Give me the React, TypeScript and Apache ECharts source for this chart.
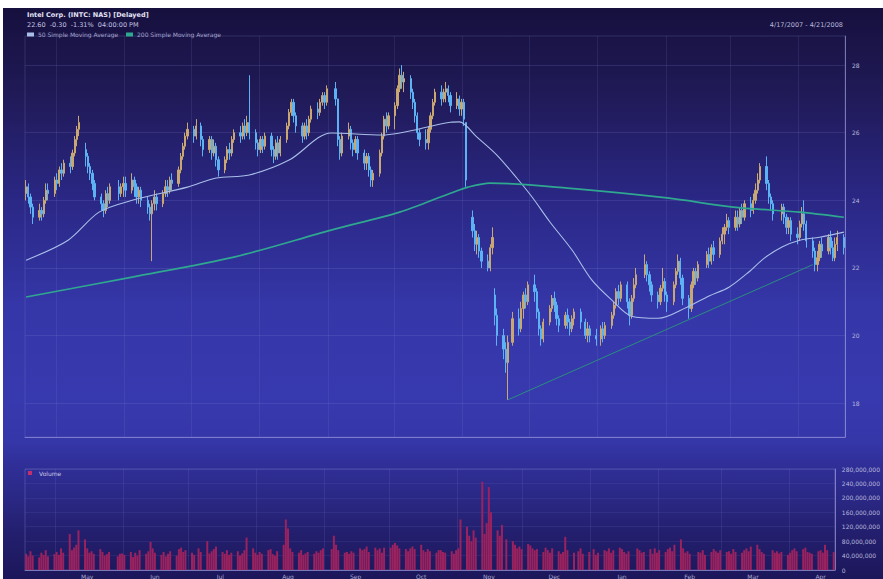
import React, { useEffect, useRef } from "react";
import * as echarts from "echarts";

const START_DATE = "2007-04-17";
const END_DATE = "2008-04-21";
const HOLIDAYS = ["2007-05-28", "2007-07-04", "2007-09-03", "2007-11-22", "2007-12-25", "2008-01-01", "2008-01-21", "2008-02-18", "2008-03-21"];
const MONTH_LABELS = ["Jan", "Feb", "Mar", "Apr", "May", "Jun", "Jul", "Aug", "Sep", "Oct", "Nov", "Dec"];
const PRICE_LABELS = [18, 20, 22, 24, 26, 28];
const PRICE_MIN = 17;
const PRICE_MAX = 28.86;
const VOLUME_MAX = 280; // millions
const VOLUME_STEP = 40;

const TITLE = "Intel Corp. (INTC: NAS) [Delayed]";
const QUOTE = "22.60  -0.30  -1.31%  04:00:00 PM";
const DATE_RANGE = "4/17/2007 - 4/21/2008";
const MA50_NAME = "50 Simple Moving Average";
const MA200_NAME = "200 Simple Moving Average";
const VOLUME_NAME = "Volume";

// [open, close, low, high] per trading day
const OHLC: number[][] = [
  [24.2,24.4,24.0,24.6],[24.4,24.1,23.9,24.5],[24.1,23.8,23.6,24.2],[23.8,23.5,23.3,23.9],[23.5,23.7,23.4,23.9],
  [23.7,23.6,23.4,23.8],[23.6,24.0,23.5,24.1],[24.0,24.3,23.9,24.5],[24.3,24.2,24.0,24.5],[24.2,24.6,24.1,24.7],
  [24.6,24.5,24.3,24.8],[24.5,24.9,24.4,25.0],[24.9,24.8,24.6,25.1],[24.8,25.1,24.7,25.2],[25.1,25.0,24.8,25.3],
  [25.0,25.4,24.9,25.5],[25.4,25.8,25.3,25.9],[25.8,26.1,25.6,26.2],[26.1,26.3,25.9,26.5],[25.5,25.3,25.0,25.7],
  [25.3,25.0,24.8,25.4],[25.0,24.8,24.6,25.1],[24.8,24.5,24.3,24.9],[24.5,24.1,24.0,24.6],[24.1,23.9,23.7,24.2],
  [23.9,23.7,23.5,24.0],
  [23.7,24.2,23.6,24.3],[24.2,24.0,23.8,24.4],[24.0,24.4,23.9,24.5],[24.4,24.2,24.0,24.6],
  [24.2,24.4,24.1,24.5],
  [24.4,24.5,24.1,24.7],
  [24.5,24.3,24.1,24.7],[24.3,24.6,24.2,24.8],[24.6,24.4,24.1,24.7],[24.4,24.1,23.9,24.5],[24.1,24.3,23.9,24.4],
  [24.3,24.0,23.8,24.4],[24.0,23.8,23.6,24.1],[23.8,23.6,23.4,23.9],[23.6,23.9,22.2,24.0],[23.9,24.1,23.7,24.3],
  [24.1,23.9,23.7,24.2],[23.9,24.2,23.8,24.3],[24.2,24.4,24.1,24.6],[24.4,24.3,24.1,24.6],[24.3,24.6,24.2,24.7],
  [24.6,24.5,24.3,24.8],[24.5,24.9,24.4,25.0],[24.9,25.3,24.8,25.4],[25.3,25.6,25.2,25.7],[25.6,25.9,25.5,26.0],
  [25.9,26.1,25.8,26.3],[26.1,25.9,25.7,26.2],[25.9,26.2,25.8,26.4],[26.2,25.8,25.6,26.3],[25.8,25.5,25.3,25.9],
  [25.5,25.8,25.4,25.9],[25.8,25.4,25.2,25.9],[25.4,25.6,25.3,25.8],[25.6,25.2,25.0,25.7],[25.2,24.9,24.7,25.3],
  [24.9,25.2,24.8,25.3],[25.2,25.5,25.1,25.6],[25.5,25.4,25.2,25.7],[25.4,25.8,25.3,25.9],[25.8,26.0,25.7,26.1],
  [26.0,25.9,25.7,26.2],[25.9,26.2,25.8,26.3],[26.2,26.0,25.8,26.4],[26.0,26.3,25.9,26.5],[26.3,26.0,25.8,27.7],
  [26.0,25.7,25.5,26.1],[25.7,25.5,25.3,25.8],[25.5,25.8,25.4,25.9],[25.8,25.6,25.4,25.9],[25.6,25.9,25.5,26.0],
  [25.9,25.5,25.3,26.0],[25.5,25.3,25.1,25.6],[25.3,25.7,25.2,25.8],[25.7,25.4,25.2,25.9],[25.4,25.8,25.3,25.9],
  [25.8,26.2,25.7,26.3],[26.2,26.6,26.1,26.7],[26.6,26.9,26.5,27.0],[26.9,26.5,26.3,27.0],[26.5,26.2,26.0,26.6],
  [26.2,25.9,25.7,26.3],[25.9,26.2,25.8,26.3],[26.2,26.0,25.8,26.4],[26.0,26.4,25.9,26.5],[26.4,26.7,26.3,26.8],
  [26.7,26.6,26.4,26.9],[26.6,26.9,26.5,27.0],[26.9,27.1,26.8,27.2],[27.1,26.9,26.7,27.2],[26.9,27.3,26.8,27.4],
  [27.3,27.0,26.8,27.5],[27.0,25.8,25.6,27.0],[25.8,25.4,25.2,25.9],[25.4,25.9,25.3,26.0],[25.9,26.1,25.8,26.3],
  [26.1,25.7,25.5,26.2],[25.7,25.5,25.3,25.8],[25.5,25.8,25.4,25.9],[25.8,25.4,25.2,25.9],[25.4,25.1,24.9,25.5],
  [25.1,25.3,24.9,25.4],[25.3,24.9,24.7,25.4],[24.9,24.6,24.4,25.0],[24.6,24.8,24.4,24.9],[24.8,25.4,24.7,25.5],
  [25.4,25.9,25.3,26.0],[25.9,26.4,25.8,26.5],[26.4,26.2,26.0,26.6],
  [26.2,26.5,26.1,26.6],
  [26.5,26.8,26.1,26.9],[26.8,27.3,26.7,27.4],[27.3,27.7,27.2,27.9],[27.7,27.5,27.3,28.0],[27.5,27.6,27.2,27.8],
  [27.6,27.2,27.0,27.7],[27.2,26.9,26.7,27.3],
  [26.9,26.5,26.3,27.0],[26.5,26.0,25.8,26.6],
  [26.0,25.8,25.6,26.1],
  [25.8,25.7,25.5,26.1],[25.7,26.1,25.5,26.2],[26.1,26.5,26.0,26.6],[26.5,26.9,26.4,27.0],[26.9,27.2,26.8,27.3],[27.2,27.0,26.8,27.4],
  [27.0,27.2,26.9,27.3],
  [27.2,27.3,26.9,27.5],[27.3,27.1,26.9,27.4],[27.1,26.8,26.6,27.2],[26.8,27.0,26.7,27.2],[27.0,26.7,26.5,27.1],
  [26.7,26.9,26.5,27.0],[26.9,26.4,26.2,27.0],[26.3,24.6,24.4,26.3],[23.5,23.1,22.9,23.7],[23.1,22.7,22.5,23.3],
  [22.7,22.9,22.4,23.1],[22.9,22.5,22.3,23.0],
  [22.5,22.2,22.0,22.6],[22.2,22.0,21.9,22.4],[22.0,22.6,21.9,22.7],[22.6,22.9,22.4,23.2],[21.2,20.6,20.3,21.4],
  [20.6,20.0,19.7,20.8],[20.0,19.6,19.3,20.2],[19.6,19.2,18.9,19.8],[19.2,19.8,18.1,20.0],[19.8,20.5,19.7,20.7],
  [20.5,20.2,20.0,20.8],[20.2,20.8,20.1,21.0],
  [20.8,21.2,20.5,21.3],[21.2,21.0,20.8,21.4],[21.0,21.5,20.9,21.6],[21.5,21.3,21.0,21.8],[21.3,20.7,20.5,21.4],
  [20.7,20.2,20.0,20.8],[20.2,19.9,19.7,20.3],
  [19.9,20.4,19.8,20.5],[20.4,20.8,20.3,20.9],[20.8,21.1,20.7,21.2],[21.1,20.9,20.7,21.3],[20.9,20.5,20.3,21.0],
  [20.5,20.3,20.1,20.6],[20.3,20.6,20.2,20.7],[20.6,20.4,20.2,20.8],[20.4,20.2,20.0,20.5],[20.2,20.5,20.1,20.6],
  [20.5,20.7,20.3,20.8],[20.7,20.4,20.2,20.8],[20.4,20.0,19.9,20.5],[20.0,20.2,19.8,20.4],[20.2,20.0,19.8,20.3],
  [20.0,19.9,19.7,20.2],[19.9,20.2,19.7,20.3],[20.2,20.0,19.8,20.4],[20.0,20.3,19.9,20.4],[20.3,20.6,20.2,20.7],
  [20.6,20.9,20.5,21.0],[20.9,21.3,20.8,21.4],[21.3,21.1,20.9,21.5],[21.1,21.5,21.0,21.6],[21.5,21.0,20.8,21.6],
  [21.0,20.6,20.3,21.1],[20.6,21.1,20.5,21.2],[21.1,21.5,21.0,21.7],[21.5,21.8,21.4,22.0],[21.8,22.1,21.7,22.4],
  [22.1,21.8,21.6,22.2],[21.8,21.5,21.3,21.9],[21.5,21.2,21.0,21.6],[21.2,21.0,20.8,21.3],[21.0,21.4,20.9,21.5],
  [21.4,21.6,21.3,22.0],[21.6,21.2,21.0,21.7],[21.2,21.0,20.7,21.3],[21.0,21.5,20.9,21.6],
  [21.5,21.9,21.4,22.0],[21.9,22.2,21.8,22.4],[22.2,21.7,21.5,22.3],[21.7,21.1,20.9,21.8],[21.1,20.8,20.5,21.2],
  [20.8,21.5,20.7,21.6],[21.5,21.9,21.4,22.0],[21.9,21.7,21.5,22.0],[21.7,22.1,21.6,22.2],[22.1,22.4,22.0,22.5],
  [22.4,22.2,22.0,22.6],[22.2,22.6,22.1,22.7],[22.6,22.4,22.2,22.8],[22.4,22.8,22.3,22.9],[22.8,23.0,22.7,23.2],
  [23.0,23.2,22.7,23.3],[23.2,23.4,23.1,23.6],[23.4,23.2,23.0,23.5],[23.2,23.5,23.1,23.7],
  [23.5,23.3,23.1,23.7],[23.3,23.7,23.2,23.8],[23.7,23.5,23.3,23.9],[23.5,23.9,23.4,24.0],[23.9,23.7,23.5,24.1],
  [23.7,24.0,23.6,24.2],[24.0,24.3,23.9,24.5],[24.3,24.6,24.2,24.8],[24.6,25.0,24.5,25.1],[25.0,24.5,24.3,25.3],
  [24.5,24.1,23.9,24.6],[24.1,23.9,23.7,24.2],[23.9,23.6,23.4,24.0],[23.6,23.8,23.4,23.9],[23.8,23.5,23.3,23.9],
  [23.5,23.2,23.0,23.6],[23.2,23.4,23.0,23.5],[23.4,23.0,22.8,23.5],[23.0,22.9,22.7,23.2],[22.9,23.3,22.8,23.4],
  [23.3,23.6,23.2,23.8],[23.6,23.3,23.1,24.0],[23.3,22.8,22.6,23.4],[22.8,22.5,22.3,22.9],[22.5,22.1,21.9,22.6],
  [22.1,22.3,21.9,22.5],[22.3,22.7,22.2,22.8],[22.7,22.5,22.3,22.9],[22.5,22.9,22.4,23.0],[22.9,22.6,22.4,23.1],
  [22.6,22.3,22.2,22.8],[22.3,22.7,22.2,22.9],[22.7,22.9,22.5,23.1],[22.9,22.6,22.4,23.0],
];

// volume per trading day, millions of shares
const VOLUME: number[] = [
  45,38,52,40,35,48,42,55,38,44, 50,42,60,48,100,55,62,70,110,85,
  60,48,52,45,58, 50, 40,44,50,38, 45, 46,
  42,50,36,48,40,55,45,52,78,60,
  48,42,50,38,45,52,40,58,62,50,
  55,48,42,60,50,80,46,52,58,65,
  50,45,55,42,48,52,40,46,55,90,
  60,48,42,50,45,55,58,44,40,52,
  70,140,115,60,50,48,55,42,46,50,
  45,52,48,55,60,58,95,70,55,48,
  50,45,52,48,60,55,58,65,50,62,
  55,60,48, 62, 62,70,75,68,60,58,52,
  60,65, 58, 70,55,50,58,52,48, 55,
  55,50,48,52,45,55,60,140,120,95,80,110,
  90,245,100,130,230,160,110,95,125,85,80,70,
  60,65,58,72,68,60,55,
  58,50,62,55,48,60,52,45,50,92,
  55,48,52,60,45,50,58,42,48,55,
  52,60,48,55,62,58,50,45,52,60,
  55,48,50,58,45, 60,48,55,50,
  58,62,52,70,85,60,48,52,45,50,
  48,55,42,50,58, 52,48,55,50,
  52,45,58,50,48,55,60,52,65,70,
  58,50,45,55,48,52,46,50,42,48,
  55,60,52,58,62,50,48,45,52,55,48,70,55,50,
];

const MA50: [string, number][] = [
  ["2007-04-17", 22.23], ["2007-05-06", 22.82], ["2007-05-20", 23.65], ["2007-06-04", 24.0],
  ["2007-06-29", 24.39], ["2007-07-12", 24.66], ["2007-07-27", 24.75], ["2007-08-14", 25.19],
  ["2007-09-02", 25.99], ["2007-09-25", 25.93], ["2007-10-26", 26.31], ["2007-10-30", 26.32],
  ["2007-11-07", 25.87], ["2007-11-16", 25.34], ["2007-11-25", 24.66], ["2007-12-02", 24.09],
  ["2007-12-10", 23.36], ["2007-12-20", 22.53], ["2007-12-29", 21.64], ["2008-01-07", 21.05],
  ["2008-01-16", 20.57], ["2008-01-28", 20.51], ["2008-02-10", 20.84], ["2008-02-20", 21.17],
  ["2008-02-29", 21.43], ["2008-03-09", 21.88], ["2008-03-16", 22.29], ["2008-03-24", 22.62],
  ["2008-04-01", 22.82], ["2008-04-10", 22.91], ["2008-04-21", 23.06],
];

const MA200: [string, number][] = [
  ["2007-04-17", 21.14], ["2007-06-04", 21.73], ["2007-07-20", 22.32], ["2007-09-02", 23.12],
  ["2007-10-03", 23.65], ["2007-10-26", 24.21], ["2007-11-03", 24.39], ["2007-11-13", 24.51],
  ["2007-12-18", 24.36], ["2008-02-01", 24.07], ["2008-03-02", 23.80], ["2008-04-01", 23.65],
  ["2008-04-21", 23.50],
];

const TREND: [string, number][] = [["2007-11-21", 18.1], ["2008-04-07", 22.1]];

const DAY_MS = 86400000;
function calendarDays(a: string, b: string): string[] {
  const out: string[] = [];
  const end = Date.parse(b + "T00:00:00Z");
  for (let t = Date.parse(a + "T00:00:00Z"); t <= end; t += DAY_MS) {
    out.push(new Date(t).toISOString().slice(0, 10));
  }
  return out;
}
const CALENDAR = calendarDays(START_DATE, END_DATE);
const TRADING = CALENDAR.filter((d) => {
  const w = new Date(d + "T00:00:00Z").getUTCDay();
  return w !== 0 && w !== 6 && HOLIDAYS.indexOf(d) < 0;
});
const TRADE_INDEX: Record<string, number> = {};
TRADING.forEach((d, i) => (TRADE_INDEX[d] = i));

const UP = "#c9a772";
const DOWN = "#5cb2f2";
const GRID_LINE = "rgba(150,150,225,0.13)";
const AXIS_LINE = "rgba(175,175,235,0.55)";

export default function App() {
  const ref = useRef<HTMLDivElement>(null);
  useEffect(() => {
    if (!ref.current) return;
    const chart = echarts.init(ref.current, undefined, { renderer: "svg" });

    const candleData = CALENDAR.map((d) => {
      const i = TRADE_INDEX[d];
      return i === undefined || !OHLC[i] ? ["-", "-", "-", "-"] : OHLC[i];
    });
    const volData = CALENDAR.map((d) => {
      const i = TRADE_INDEX[d];
      return i === undefined || VOLUME[i] === undefined ? "-" : VOLUME[i];
    });
    const toIdx = (pts: [string, number][]) => pts.map(([d, v]) => [CALENDAR.indexOf(d), v]);

    const isMonthStart = (index: number) => !!CALENDAR[index] && CALENDAR[index].slice(8) === "01";
    const isMidMonth = (index: number) => !!CALENDAR[index] && CALENDAR[index].slice(8) === "15";

    const font = "DejaVu Sans";
    const option: any = {
      animation: false,
      backgroundColor: "transparent",
      textStyle: { fontFamily: font },
      grid: [
        { left: 22, right: 38, top: 28, height: 401, show: true, borderColor: "rgba(150,150,225,0.2)", borderWidth: 1, backgroundColor: "transparent" },
        { left: 22, right: 38, top: 461, height: 101, show: true, borderColor: "rgba(150,150,225,0.3)", borderWidth: 1, backgroundColor: "transparent" },
      ],
      xAxis: [
        {
          type: "category", gridIndex: 0, data: CALENDAR, boundaryGap: true,
          axisLine: { show: true, lineStyle: { color: AXIS_LINE } },
          axisTick: { show: false }, axisLabel: { show: false },
          splitLine: { show: true, interval: isMonthStart, lineStyle: { color: GRID_LINE } },
        },
        {
          type: "category", gridIndex: 1, data: CALENDAR, boundaryGap: true,
          axisLine: { show: true, lineStyle: { color: AXIS_LINE } },
          axisTick: { show: false },
          axisLabel: {
            show: true, interval: isMidMonth, fontSize: 6, color: "#a8a8d0", margin: 3, fontFamily: font,
            formatter: (v: string) => MONTH_LABELS[parseInt(v.slice(5, 7), 10) - 1],
          },
          splitLine: { show: true, interval: isMonthStart, lineStyle: { color: GRID_LINE } },
        },
      ],
      yAxis: [
        {
          type: "value", gridIndex: 0, position: "right", min: PRICE_MIN, max: PRICE_MAX, interval: 1,
          axisLine: { show: true, lineStyle: { color: AXIS_LINE } }, axisTick: { show: false },
          axisLabel: {
            fontSize: 6, color: "#b8b8dc", margin: 7, fontFamily: font,
            formatter: (v: number) => {
              const r = Math.round(v);
              return Math.abs(v - r) < 1e-6 && PRICE_LABELS.indexOf(r) >= 0 ? String(r) : "";
            },
          },
          splitLine: { show: false },
        },
        {
          type: "value", gridIndex: 1, position: "right", min: 0, max: VOLUME_MAX, interval: VOLUME_STEP,
          axisLine: { show: true, lineStyle: { color: AXIS_LINE } }, axisTick: { show: false },
          axisLabel: {
            fontSize: 6, color: "#b8b8dc", margin: 7, fontFamily: font,
            formatter: (v: number) => (v * 1000000).toLocaleString("en-US"),
          },
          splitLine: { show: true, lineStyle: { color: "rgba(150,150,225,0.1)" } },
        },
      ],
      series: [
        {
          type: "candlestick", name: "INTC", xAxisIndex: 0, yAxisIndex: 0, data: candleData, barWidth: 1.8,
          itemStyle: { color: UP, color0: DOWN, borderColor: UP, borderColor0: DOWN, borderWidth: 1 },
          markLine: {
            silent: true, symbol: ["none", "none"], label: { show: false },
            lineStyle: { color: "#2b8d80", width: 1, type: "solid" },
            data: [[{ coord: [CALENDAR.indexOf(TREND[0][0]), TREND[0][1]] }, { coord: [CALENDAR.indexOf(TREND[1][0]), TREND[1][1]] }]],
          },
        },
        {
          type: "line", name: MA50_NAME, xAxisIndex: 0, yAxisIndex: 0, data: toIdx(MA50), smooth: 0.3,
          showSymbol: false, symbol: "none", lineStyle: { color: "#a9bfe9", width: 1.1 }, z: 3,
          markLine: {
            silent: true, symbol: ["none", "none"], label: { show: false }, z: 1,
            lineStyle: { color: "rgba(150,150,225,0.16)", width: 1, type: "solid" },
            data: PRICE_LABELS.map((p) => ({ yAxis: p })),
          },
        },
        {
          type: "line", name: MA200_NAME, xAxisIndex: 0, yAxisIndex: 0, data: toIdx(MA200), smooth: 0.3,
          showSymbol: false, symbol: "none", lineStyle: { color: "#2fa88f", width: 1.7 }, z: 3,
        },
        {
          type: "bar", name: VOLUME_NAME, xAxisIndex: 1, yAxisIndex: 1, data: volData, barWidth: 2,
          itemStyle: { color: "#9a225f" },
        },
      ],
      graphic: [
        { type: "text", x: 24, y: 7, z: 100, style: { text: TITLE, fill: "#e2e2f4", fontSize: 6.5, fontWeight: "bold", fontFamily: font, verticalAlign: "middle" } },
        { type: "text", x: 24, y: 16.5, z: 100, style: { text: QUOTE, fill: "#c4c4e0", fontSize: 6.5, fontFamily: font, verticalAlign: "middle" } },
        { type: "rect", z: 100, shape: { x: 24, y: 24.5, width: 7, height: 4 }, style: { fill: "#a9bfe9" } },
        { type: "text", x: 35, y: 26.5, z: 100, style: { text: MA50_NAME, fill: "#a4a4cc", fontSize: 6, fontFamily: font, verticalAlign: "middle" } },
        { type: "rect", z: 100, shape: { x: 123, y: 24.5, width: 7, height: 4 }, style: { fill: "#2fa88f" } },
        { type: "text", x: 134, y: 26.5, z: 100, style: { text: MA200_NAME, fill: "#a4a4cc", fontSize: 6, fontFamily: font, verticalAlign: "middle" } },
        { type: "text", x: 840, y: 17, z: 100, style: { text: DATE_RANGE, fill: "#b8b8d8", fontSize: 6.5, fontFamily: font, align: "right", verticalAlign: "middle" } },
        { type: "rect", z: 100, shape: { x: 25, y: 463, width: 4, height: 4 }, style: { fill: "#c4306e" } },
        { type: "text", x: 36, y: 465.5, z: 100, style: { text: VOLUME_NAME, fill: "#c8c8e2", fontSize: 6, fontFamily: font, verticalAlign: "middle" } },
      ],
    };
    chart.setOption(option);
    return () => chart.dispose();
  }, []);

  return (
    <div
      ref={ref}
      style={{
        position: "absolute",
        left: 3,
        top: 8,
        width: 880,
        height: 571,
        background:
          "linear-gradient(to bottom, #16103e 0%, #201a57 15%, #2a2784 33%, #3536a8 52%, #3739ae 68%, #3536a8 76%, #302f98 80%, #2a2884 86%, #231f6e 92%, #1c175a 100%)",
      }}
    />
  );
}
